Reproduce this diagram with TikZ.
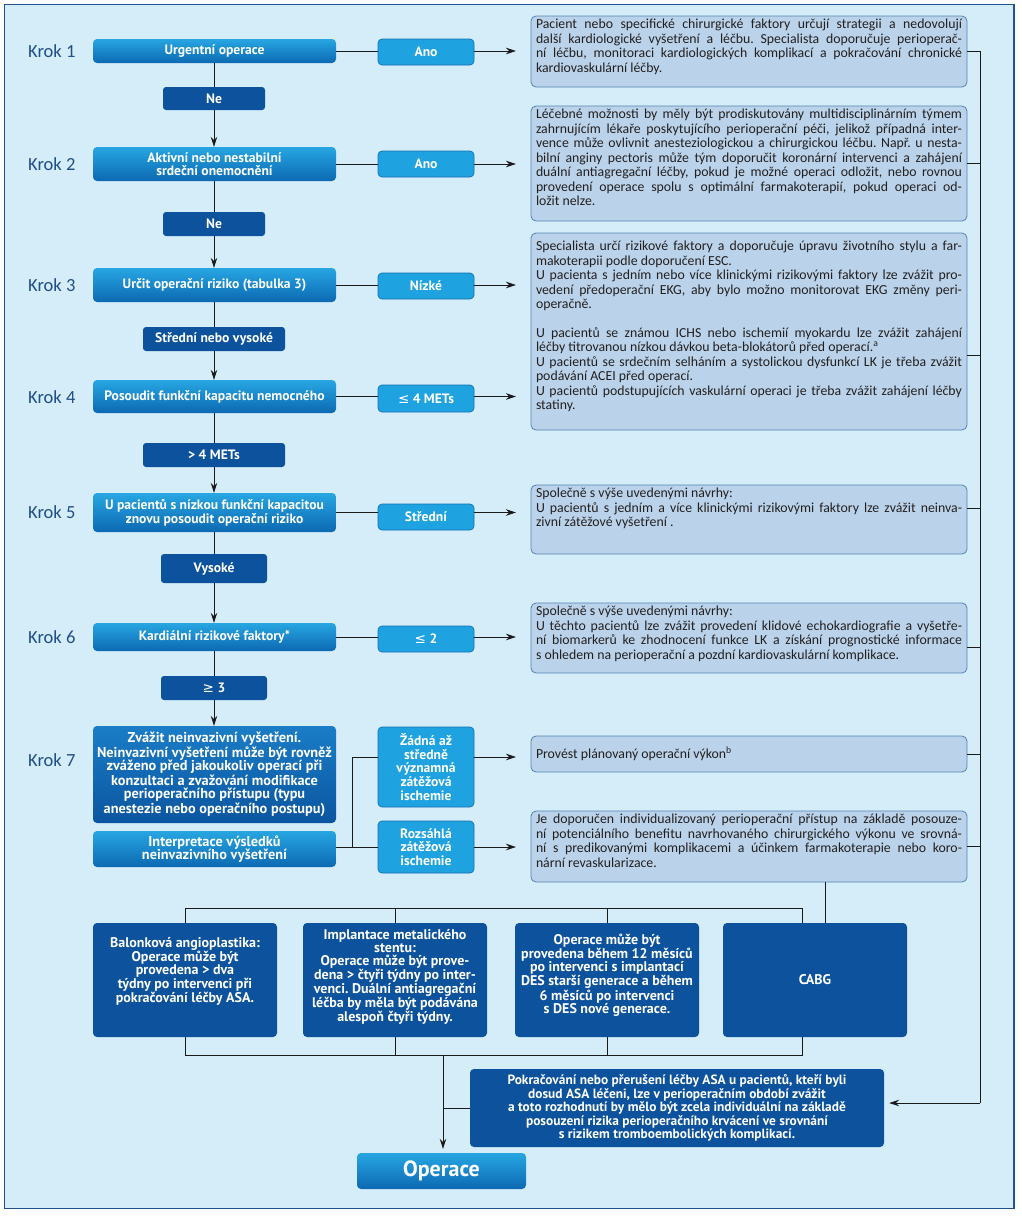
\documentclass[tikz,border=0pt]{standalone}
\usepackage{fontspec}
\setmainfont{Carlito}
\newfontfamily\symf{DejaVu Sans}
\newfontfamily\bxf{PT Sans}
\usetikzlibrary{arrows.meta,calc}
\frenchspacing
\definecolor{bg}{HTML}{D5EDF9}
\definecolor{framec}{HTML}{1F528F}
\definecolor{stTop}{HTML}{27A6E2}
\definecolor{stBot}{HTML}{0C69B2}
\definecolor{stSTop}{HTML}{1A7DC6}
\definecolor{stSBot}{HTML}{0B55A0}
\definecolor{lab}{HTML}{1FA2E0}
\definecolor{labB}{HTML}{1270B4}
\definecolor{darkc}{HTML}{0C529D}
\definecolor{tfill}{HTML}{BAD3EA}
\definecolor{tdraw}{HTML}{5583B2}
\definecolor{krokc}{HTML}{1F4E8A}
\definecolor{txtc}{HTML}{231F20}
\definecolor{lnc}{HTML}{1A1A1A}
\newcommand\bx{\bxf\fontsize{13.6}{13.6}\selectfont\bfseries}
\newcommand\bxb{\bxf\fontsize{14.3}{13.4}\selectfont\bfseries}
\newcommand\bxs{\bxf\fontsize{14}{13}\selectfont\bfseries}
\newcommand\bxa{\bxf\fontsize{13.4}{11.6}\selectfont\bfseries}
\newcommand\jl[1]{\makebox[\linewidth][s]{#1}\\}
\newcommand\tb[3][t]{\parbox[c][#2][#1]{426pt}{\frenchspacing\fontsize{13.8}{14.5}\selectfont #3}}
\newcommand\lesym{{\symf\mdseries ≤}}
\newcommand\gesym{{\symf\mdseries ≥}}
\begin{document}
\frenchspacing
\begin{tikzpicture}[x=1pt,y=-1pt,
  ln/.style={draw=lnc, line width=0.9pt},
  arr/.style={draw=lnc, line width=0.9pt, -{Stealth[length=10pt,width=6.5pt]}},
  stepbox/.style={rounded corners=4pt, top color=stTop, bottom color=stBot, text=white, font=\bx, align=center, inner sep=0pt, minimum width=243pt},
  labbox/.style={rounded corners=4pt, fill=lab, draw=labB, line width=0.7pt, text=white, font=\bx, align=center, inner sep=0pt, minimum width=96pt},
  darkbox/.style={rounded corners=3pt, fill=darkc, text=white, font=\bx, align=center, inner sep=0pt},
  tbox/.style={rounded corners=5pt, fill=tfill, draw=tdraw, line width=0.8pt, inner xsep=5pt, inner ysep=3pt, text=txtc},
  krok/.style={anchor=west, text=krokc, font=\fontsize{18.5}{18.5}\selectfont, inner sep=0pt},
  botbox/.style={rounded corners=4pt, fill=darkc, text=white, font=\bxs, align=center, inner sep=0pt, minimum width=184pt, minimum height=114pt},
]
\useasboundingbox (0,0) rectangle (1022,1219);
\fill[white] (0,0) rectangle (1022,1219);
\draw[draw=framec, line width=1.5pt, fill=bg] (4.5,4.5) rectangle (1014,1208.5);

% Krok labels
\node[krok] (k1) at (28,51) {Krok 1};
\node[krok] (k2) at (28,164) {Krok 2};
\node[krok] (k3) at (28,285) {Krok 3};
\node[krok] (k4) at (28,397) {Krok 4};
\node[krok] (k5) at (28,512) {Krok 5};
\node[krok] (k6) at (28,637) {Krok 6};
\node[krok] (k7) at (28,760) {Krok 7};

% step boxes
\node[stepbox, minimum height=24pt] (s1) at (214.5,51) {Urgentní operace};
\node[stepbox, minimum height=34pt] (s2) at (214.5,164) {Aktivní nebo nestabilní\\srdeční onemocnění};
\node[stepbox, minimum height=34pt] (s3) at (214.5,285) {Určit operační riziko (tabulka 3)};
\node[stepbox, minimum height=33pt] (s4) at (214.5,396.5) {Posoudit funkční kapacitu nemocného};
\node[stepbox, minimum height=39pt] (s5) at (214.5,512.5) {U pacientů s nízkou funkční kapacitou\\znovu posoudit operační riziko};
\node[stepbox, minimum height=28pt] (s6) at (214.5,637) {Kardiální rizikové faktory*};
\node[stepbox, font=\bxb, top color=stSTop, bottom color=stSBot, minimum height=97pt] (s7a) at (214.5,774.5) {Zvážit neinvazivní vyšetření.\\Neinvazivní vyšetření může být rovněž\\zváženo před jakoukoliv operací při\\konzultaci a zvažování modifikace\\perioperačního přístupu (typu\\anestezie nebo operačního postupu)};
\node[stepbox, font=\bxb, minimum height=36pt] (s7b) at (214.5,849) {Interpretace výsledků\\neinvazivního vyšetření};

% answer boxes
\node[labbox, minimum height=26pt] (a1) at (426,52) {Ano};
\node[labbox, minimum height=26pt] (a2) at (426,164) {Ano};
\node[labbox, minimum height=26pt] (a3) at (426,286) {Nízké};
\node[labbox, minimum height=27pt] (a4) at (426,398.5) {\lesym\ 4 METs};
\node[labbox, minimum height=26pt] (a5) at (426,517) {Střední};
\node[labbox, minimum height=26pt] (a6) at (426,639) {\lesym\ 2};
\node[labbox, minimum height=80pt] (a7a) at (426,767) {Žádná až\\středně\\významná\\zátěžová\\ischemie};
\node[labbox, minimum height=52pt] (a7b) at (426,847) {Rozsáhlá\\zátěžová\\ischemie};

% dark decision boxes
\node[darkbox, minimum width=102pt, minimum height=23pt] (n1) at (214,98.5) {Ne};
\node[darkbox, minimum width=102pt, minimum height=24pt] (n2) at (214,224) {Ne};
\node[darkbox, minimum width=142pt, minimum height=24pt] (n3) at (214,339) {Střední nebo vysoké};
\node[darkbox, minimum width=142pt, minimum height=24pt] (n4) at (214,455) {> 4 METs};
\node[darkbox, minimum width=106pt, minimum height=29pt] (n5) at (214,568.5) {Vysoké};
\node[darkbox, minimum width=106pt, minimum height=24pt] (n6) at (214,688) {\gesym\ 3};

% text boxes
\node[tbox] (t1) at (749,51.5) {\tb{65pt}{\jl{Pacient nebo specifické chirurgické faktory určují strategii a nedovolují}\jl{další kardiologické vyšetření a léčbu. Specialista doporučuje perioperač-}\jl{ní léčbu, monitoraci kardiologických komplikací a pokračování chronické}kardiovaskulární léčby.}};
\node[tbox] (t2) at (749,163.5) {\tb{109pt}{\jl{Léčebné možnosti by měly být prodiskutovány multidisciplinárním týmem}\jl{zahrnujícím lékaře poskytujícího perioperační péči, jelikož případná inter-}\jl{vence může ovlivnit anesteziologickou a chirurgickou léčbu. Např. u nesta-}\jl{bilní anginy pectoris může tým doporučit koronární intervenci a zahájení}\jl{duální antiagregační léčby, pokud je možné operaci odložit, nebo rovnou}\jl{provedení operace spolu s optimální farmakoterapií, pokud operaci od-}ložit nelze.}};
\node[tbox] (t3) at (749,331.5) {\tb{191pt}{\vspace*{5pt}\jl{Specialista určí rizikové faktory a doporučuje úpravu životního stylu a far-}makoterapii podle doporučení ESC.\\\jl{U pacienta s jedním nebo více klinickými rizikovými faktory lze zvážit pro-}\jl{vedení předoperační EKG, aby bylo možno monitorovat EKG změny peri-}operačně.\\[14pt]\jl{U pacientů se známou ICHS nebo ischemií myokardu lze zvážit zahájení}léčby titrovanou nízkou dávkou beta-blokátorů před operací.\textsuperscript{a}\\\jl{U pacientů se srdečním selháním a systolickou dysfunkcí LK je třeba zvážit}podávání ACEI před operací.\\\jl{U pacientů podstupujících vaskulární operaci je třeba zvážit zahájení léčby}statiny.}};
\node[tbox] (t5) at (749,519.5) {\tb{63pt}{Společně s výše uvedenými návrhy:\\\jl{U pacientů s jedním a více klinickými rizikovými faktory lze zvážit neinva-}zivní zátěžové vyšetření .}};
\node[tbox] (t6) at (749,638) {\tb{64pt}{Společně s výše uvedenými návrhy:\\\jl{U těchto pacientů lze zvážit provedení klidové echokardiografie a vyšetře-}\jl{ní biomarkerů ke zhodnocení funkce LK a získání prognostické informace}s ohledem na perioperační a pozdní kardiovaskulární komplikace.}};
\node[tbox] (t7a) at (749,754) {\tb[c]{30pt}{Provést plánovaný operační výkon\textsuperscript{b}}};
\node[tbox] (t7b) at (749,846.5) {\tb{65pt}{\jl{Je doporučen individualizovaný perioperační přístup na základě posouze-}\jl{ní potenciálního benefitu navrhovaného chirurgického výkonu ve srovná-}\jl{ní s predikovanými komplikacemi a účinkem farmakoterapie nebo koro-}nární revaskularizace.}};

% bottom boxes
\node[botbox] (bA) at (185,980) {\parbox[c][86pt][t]{182pt}{\centering Balonková angioplastika:\\Operace může být\\provedena > dva\\týdny po intervenci při\\pokračování léčby ASA.}};
\node[botbox] (bB) at (395,980) {\parbox[c][102pt][t]{182pt}{\centering Implantace metalického\\stentu:\\Operace může být prove-\\dena > čtyři týdny po inter-\\venci. Duální antiagregační\\léčba by měla být podávána\\alespoň čtyři týdny.}};
\node[botbox] (bC) at (607,980) {\parbox[c][92pt][t]{182pt}{\centering Operace může být\\provedena během 12 měsíců\\po intervenci s implantací\\DES starší generace a během\\6 měsíců po intervenci\\s DES nové generace.}};
\node[botbox] (bD) at (815,980) {CABG};
\node[darkbox, font=\bxa, minimum width=414pt, minimum height=78pt, rounded corners=4pt] (asa) at (677,1108) {Pokračování nebo přerušení léčby ASA u pacientů, kteří byli\\dosud ASA léčeni, lze v perioperačním období zvážit\\a toto rozhodnutí by mělo být zcela individuální na základě\\posouzení rizika perioperačního krvácení ve srovnání\\s rizikem tromboembolických komplikací.};
\node[stepbox, minimum width=169pt, minimum height=36pt, font=\bxf\fontsize{22}{22}\selectfont\bfseries] (op) at (441.5,1171) {Operace};

% helper coordinates
\coordinate (tipx) at (516,0);
\coordinate (bx) at (980,0);
\coordinate (bb) at (980,1103);

% vertical chain
\draw[ln] (s1.south) -- (s1.south |- n1.north);
\draw[arr] (n1.south) -- (n1.south |- s2.north);
\draw[ln] (s2.south) -- (s2.south |- n2.north);
\draw[arr] (n2.south) -- (n2.south |- s3.north);
\draw[ln] (s3.south) -- (s3.south |- n3.north);
\draw[arr] (n3.south) -- (n3.south |- s4.north);
\draw[ln] (s4.south) -- (s4.south |- n4.north);
\draw[arr] (n4.south) -- (n4.south |- s5.north);
\draw[ln] (s5.south) -- (s5.south |- n5.north);
\draw[arr] (n5.south) -- (n5.south |- s6.north);
\draw[ln] (s6.south) -- (s6.south |- n6.north);
\draw[arr] (n6.south) -- (n6.south |- s7a.north);

% horizontal branches
\foreach \s/\a in {s1/a1,s2/a2,s3/a3,s4/a4,s5/a5,s6/a6}{
  \draw[ln] (\s.east) -- (\s.east -| \a.west);
  \draw[arr] (\a.east |- \s.east) -- (\s.east -| tipx);
}
\coordinate (j) at (352,847);
\coordinate (jt) at (352,757);
\draw[ln] (s7b.east |- j) -- (j) -- (a7b.west |- j);
\draw[ln] (j) -- (jt) -- (a7a.west |- jt);
\draw[arr] (a7a.east |- jt) -- (jt -| tipx);
\draw[arr] (a7b.east |- j) -- (j -| tipx);

% right bus
\coordinate (t3c) at ([yshift=-23.5pt]t3.east);
\coordinate (t5c) at ([yshift=11.5pt]t5.east);
\coordinate (t6c) at ([yshift=-9pt]t6.east);
\draw[ln] (t1.east) -- (t1.east -| bx) -- (bb);
\draw[ln] (t2.east) -- (t2.east -| bx);
\draw[ln] (t3c) -- (t3c -| bx);
\draw[ln] (t5c) -- (t5c -| bx);
\draw[ln] (t6c) -- (t6c -| bx);
\draw[ln] (t7a.east) -- (t7a.east -| bx);
\draw[ln] (t7b.east) -- (t7b.east -| bx);
\draw[arr, shorten >=5pt] (bb) -- (bb -| asa.east);

% bottom buses
\coordinate (busT) at (0,908);
\coordinate (dT) at (802,923);
\coordinate (dT2) at (825,923);
\draw[ln] (bA.north) -- (bA.north |- busT) -- (dT |- busT) -- (dT);
\draw[ln] (bB.north) -- (bB.north |- busT);
\draw[ln] (bC.north) -- (bC.north |- busT);
\draw[ln] (t7b.south -| dT2) -- (dT2);
\coordinate (busB) at (0,1055);
\coordinate (dB) at (802,1037);
\draw[ln] (bA.south) -- (bA.south |- busB) -- (dB |- busB) -- (dB);
\draw[ln] (bB.south) -- (bB.south |- busB);
\draw[ln] (bC.south) -- (bC.south |- busB);
\coordinate (m) at (443,1055);
\draw[arr, shorten >=4pt] (m) -- (m |- op.north);
\draw[ln] (asa.west) -- (asa.west -| m);
\end{tikzpicture}
\end{document}
